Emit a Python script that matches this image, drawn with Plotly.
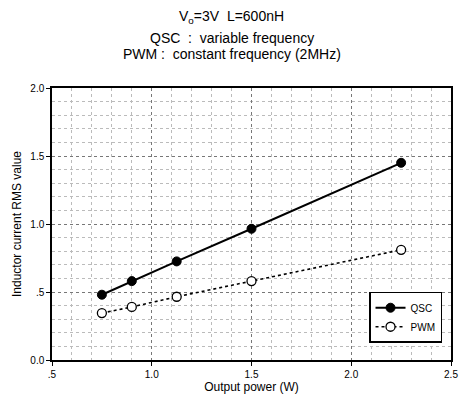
import plotly.graph_objects as go

power = [0.75, 0.9, 1.125, 1.5, 2.25]
qsc = [0.48, 0.58, 0.725, 0.965, 1.45]
pwm = [0.345, 0.39, 0.465, 0.58, 0.81]

x_ticks = [0.5, 1.0, 1.5, 2.0, 2.5]
x_labels = [".5", "1.0", "1.5", "2.0", "2.5"]
y_ticks = [0.0, 0.5, 1.0, 1.5, 2.0]
y_labels = ["0.0", ".5", "1.0", "1.5", "2.0"]

title_lines = ["V<sub>o</sub>=3V  L=600nH", "QSC  :  variable frequency", "PWM :  constant frequency (2MHz)"]

FONT = "Liberation Sans, Arial, sans-serif"

fig = go.Figure()
fig.add_trace(go.Scatter(
    x=power, y=qsc, name="QSC", mode="lines+markers",
    line=dict(color="black", width=2),
    marker=dict(symbol="circle", size=9, color="black", line=dict(color="black", width=1)),
))
fig.add_trace(go.Scatter(
    x=power, y=pwm, name="PWM", mode="lines+markers",
    line=dict(color="black", width=1.6, dash="dot"),
    marker=dict(symbol="circle", size=9, color="white", line=dict(color="black", width=1.3)),
))

axis_common = dict(
    showline=True, linecolor="black", linewidth=1.5, mirror=True,
    ticks="outside", ticklen=4, tickcolor="black", tickwidth=1.2,
    showgrid=True, gridcolor="#777777", griddash="dot", gridwidth=1,
    zeroline=False,
    tickfont=dict(family=FONT, size=10, color="black"),
)

fig.update_xaxes(
    range=[0.5, 2.5], tickvals=x_ticks, ticktext=x_labels,
    minor=dict(dtick=0.1, showgrid=True, gridcolor="#bbbbbb", griddash="dot", gridwidth=1, ticks=""),
    title=dict(text="Output power (W)", font=dict(family=FONT, size=12, color="black"), standoff=2),
    **axis_common,
)
fig.update_yaxes(
    range=[0.0, 2.0], tickvals=y_ticks, ticktext=y_labels,
    minor=dict(dtick=0.1, showgrid=True, gridcolor="#bbbbbb", griddash="dot", gridwidth=1, ticks=""),
    title=dict(text="Inductor current RMS value", font=dict(family=FONT, size=12, color="black"), standoff=6),
    **axis_common,
)

ys = [1.262, 1.185, 1.124]
for txt, yy in zip(title_lines, ys):
    fig.add_annotation(
        text=txt, x=0.45, y=yy, xref="paper", yref="paper",
        xanchor="center", yanchor="middle", showarrow=False,
        font=dict(family=FONT, size=14, color="black"),
    )

fig.update_layout(
    width=467, height=399,
    margin=dict(l=52, r=9, t=88, b=36),
    paper_bgcolor="white", plot_bgcolor="white",
    showlegend=True,
    legend=dict(
        x=0.9775, y=0.251, xanchor="right", yanchor="top",
        bgcolor="white", bordercolor="black", borderwidth=1.5,
        font=dict(family=FONT, size=10, color="black"),
        itemwidth=30, tracegroupgap=0,
    ),
)

fig.write_html("out.html")
